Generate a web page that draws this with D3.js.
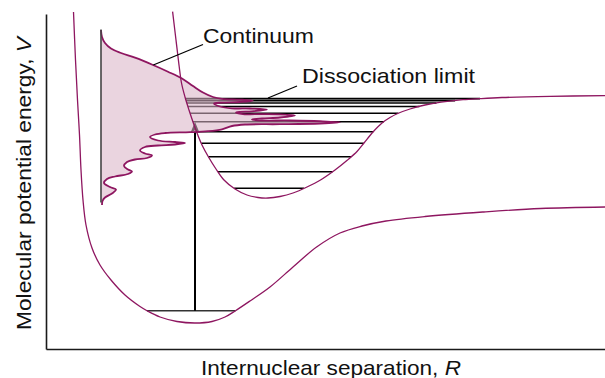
<!DOCTYPE html>
<html>
<head>
<meta charset="utf-8">
<script src="https://cdn.jsdelivr.net/npm/d3@7/dist/d3.min.js"></script>
<style>
  html, body { margin: 0; padding: 0; background: #fff; }
  svg { display: block; }
  text { font-family: "Liberation Sans", Arial, Helvetica, sans-serif; fill: #111; }
</style>
</head>
<body>
<svg id="chart" width="605" height="378"></svg>
<script>
// ---------- data (R, V in arbitrary units) ----------
const groundCurve = [
  [0.275,3.37],[0.295,2.89],[0.315,2.49],[0.335,2.14],[0.35,1.79],[0.37,1.49],
  [0.40,1.24],[0.46,1.01],[0.54,0.84],[0.65,0.69],[0.79,0.54],[0.94,0.425],
  [1.01,0.383],[1.14,0.32],[1.31,0.275],[1.49,0.26],[1.66,0.275],[1.79,0.32],
  [1.895,0.383],[2.04,0.48],[2.24,0.62],[2.47,0.82],[2.706,1.02],[2.94,1.16],
  [3.16,1.23],[3.40,1.28],[3.79,1.325],[4.366,1.37],[4.945,1.405],[5.59,1.42]
];
const excitedCurve = [
  [1.266,3.373],[1.30,3.09],[1.33,2.84],[1.355,2.66],[1.39,2.52],[1.43,2.39],
  [1.47,2.27],[1.51,2.16],[1.56,2.04],[1.625,1.92],[1.70,1.80],[1.78,1.69],
  [1.89,1.60],[2.01,1.54],[2.12,1.515],[2.22,1.51],[2.34,1.525],[2.47,1.56],
  [2.61,1.62],[2.745,1.69],[2.89,1.79],[3.015,1.89],[3.11,1.975],[3.18,2.06],
  [3.27,2.17],[3.36,2.26],[3.44,2.315],[3.517,2.355],[3.64,2.40],[3.79,2.44],
  [3.95,2.468],[4.17,2.493],[4.34,2.504],[4.56,2.515],[5.04,2.527],[5.59,2.533]
];
const groundLevels = [0.383];
const excitedLevels = [2.504,2.484,2.46,2.425,2.357,2.273,2.173,2.057,1.923,1.773,1.607];
const transitionR = 1.49;
const transitionTo = 2.273;
const spectrumBaseR = 0.55;
const spectrumRange = [1.445, 3.195];
const spectrum = [
  [0.55,3.19],[0.56,3.12],[0.59,3.06],[0.65,3.005],[0.75,2.96],[0.89,2.913],
  [1.07,2.84],[1.22,2.773],[1.36,2.705],[1.47,2.63],[1.57,2.565],[1.67,2.52],
  [1.76,2.502],
  [1.94,2.494],[2.07,2.482],[1.94,2.47],[1.76,2.464],[1.68,2.454],
  [1.74,2.425],[1.86,2.407],
  [2.04,2.405],[2.21,2.395],[2.06,2.377],[1.94,2.372],[1.90,2.365],
  [1.97,2.348],[2.09,2.348],
  [2.34,2.347],[2.49,2.335],[2.34,2.315],[2.16,2.305],[2.06,2.295],
  [2.11,2.287],
  [2.44,2.285],[2.74,2.278],[2.94,2.267],[2.74,2.255],[2.34,2.248],[1.99,2.245],
  [1.86,2.23],[1.76,2.197],[1.62,2.178],[1.44,2.168],[1.19,2.16],[1.09,2.145],[1.04,2.12],
  [1.12,2.085],[1.29,2.07],[1.39,2.06],[1.29,2.045],[1.12,2.035],[0.99,2.02],[0.94,1.985],
  [0.99,1.955],[1.06,1.935],[1.01,1.91],[0.89,1.895],[0.81,1.87],[0.78,1.83],
  [0.82,1.795],[0.86,1.775],[0.82,1.75],[0.69,1.725],[0.61,1.70],[0.58,1.66],
  [0.64,1.62],[0.70,1.595],[0.66,1.555],[0.59,1.515],[0.565,1.48],[0.56,1.44]
];
const labels = [
  {text: "Continuum", R: 1.57, V: 3.06, len: 111, from: [1.073,2.84], to: [1.57,3.045]},
  {text: "Dissociation limit", R: 2.56, V: 2.665, len: 173, from: [2.22,2.51], to: [2.51,2.63]}
];
const xTitle = ["Internuclear separation, ", "R"];
const yTitle = ["Molecular potential energy, ", "V"];

// ---------- layout ----------
const svg = d3.select("#chart");
const x = d3.scaleLinear().domain([0, 5.59]).range([46, 605]);
const y = d3.scaleLinear().domain([0, 3.35]).range([349, 14]);
const curveColor = "#8e1660";

// axes (no ticks)
svg.append("g").attr("transform", `translate(0,${y(0)})`)
  .call(d3.axisBottom(x).tickValues([]).tickSizeOuter(0))
  .call(g => g.select(".domain").attr("stroke", "#1a1a1a").attr("stroke-width", 1.6));
svg.append("g").attr("transform", `translate(${x(0)},0)`)
  .call(d3.axisLeft(y).tickValues([]).tickSizeOuter(0))
  .call(g => g.select(".domain").attr("stroke", "#1a1a1a").attr("stroke-width", 1.6));

function crossings(curve, v) {
  const out = [];
  for (let i = 0; i < curve.length - 1; i++) {
    const [r0, v0] = curve[i], [r1, v1] = curve[i + 1];
    if ((v0 - v) * (v1 - v) <= 0 && v0 !== v1) {
      out.push(r0 + (v - v0) / (v1 - v0) * (r1 - r0));
    }
  }
  return [out[0], out[out.length - 1]];
}

// vibrational levels
excitedLevels.forEach(v => {
  const [r0, r1] = crossings(excitedCurve, v);
  svg.append("line").attr("x1", x(r0)).attr("x2", x(r1)).attr("y1", y(v)).attr("y2", y(v))
    .attr("stroke", "#000").attr("stroke-width", 1.6);
});
groundLevels.forEach(v => {
  const [r0, r1] = crossings(groundCurve, v);
  svg.append("line").attr("x1", x(r0)).attr("x2", x(r1)).attr("y1", y(v)).attr("y2", y(v))
    .attr("stroke", "#333").attr("stroke-width", 1.6);
});

// transition arrow
svg.append("line").attr("x1", x(transitionR)).attr("x2", x(transitionR))
  .attr("y1", y(groundLevels[0])).attr("y2", y(transitionTo) + 10)
  .attr("stroke", "#000").attr("stroke-width", 2);
const tx = x(transitionR), ty = y(transitionTo);
svg.append("path").attr("d", `M${tx},${ty}L${tx-4.5},${ty+11}L${tx},${ty+8.5}L${tx+4.5},${ty+11}Z`)
  .attr("fill", "#000");

// spectrum fill
const specLine = d3.line().x(d => x(d[0])).y(d => y(d[1])).curve(d3.curveCatmullRom.alpha(0.5));
const fillPath = specLine(spectrum) +
  `L${x(spectrumBaseR)},${y(spectrumRange[0])}L${x(spectrumBaseR)},${y(spectrumRange[1])}Z`;
svg.append("path").attr("d", fillPath).attr("fill", "rgb(217,178,198)").attr("fill-opacity", 0.56);

// potential curves
const potLine = d3.line().x(d => x(d[0])).y(d => y(d[1])).curve(d3.curveCatmullRom.alpha(0.5));
[groundCurve, excitedCurve].forEach(c => {
  svg.append("path").attr("d", potLine(c)).attr("fill", "none")
    .attr("stroke", curveColor).attr("stroke-width", 1.3);
});

// spectrum outline and baseline
svg.append("path").attr("d", specLine(spectrum)).attr("fill", "none")
  .attr("stroke", curveColor).attr("stroke-width", 1.8);
svg.append("line").attr("x1", x(spectrumBaseR)).attr("x2", x(spectrumBaseR))
  .attr("y1", y(spectrumRange[0]) - 2).attr("y2", y(spectrumRange[1]))
  .attr("stroke", "#444").attr("stroke-width", 1.6);

// annotations
labels.forEach(l => {
  svg.append("line").attr("x1", x(l.from[0])).attr("y1", y(l.from[1]))
    .attr("x2", x(l.to[0])).attr("y2", y(l.to[1]))
    .attr("stroke", "#000").attr("stroke-width", 1.3);
  svg.append("text").attr("x", x(l.R)).attr("y", y(l.V))
    .attr("font-size", 21).attr("textLength", l.len).attr("lengthAdjust", "spacingAndGlyphs")
    .text(l.text);
});

// axis titles
const xt = svg.append("text").attr("x", 201).attr("y", 375).attr("font-size", 21)
  .attr("textLength", 260).attr("lengthAdjust", "spacingAndGlyphs");
xt.append("tspan").text(xTitle[0]);
xt.append("tspan").attr("font-style", "italic").text(xTitle[1]);

const yt = svg.append("text").attr("transform", "translate(31,330) rotate(-90)")
  .attr("font-size", 21).attr("textLength", 293).attr("lengthAdjust", "spacingAndGlyphs");
yt.append("tspan").text(yTitle[0]);
yt.append("tspan").attr("font-style", "italic").text(yTitle[1]);
</script>
</body>
</html>
